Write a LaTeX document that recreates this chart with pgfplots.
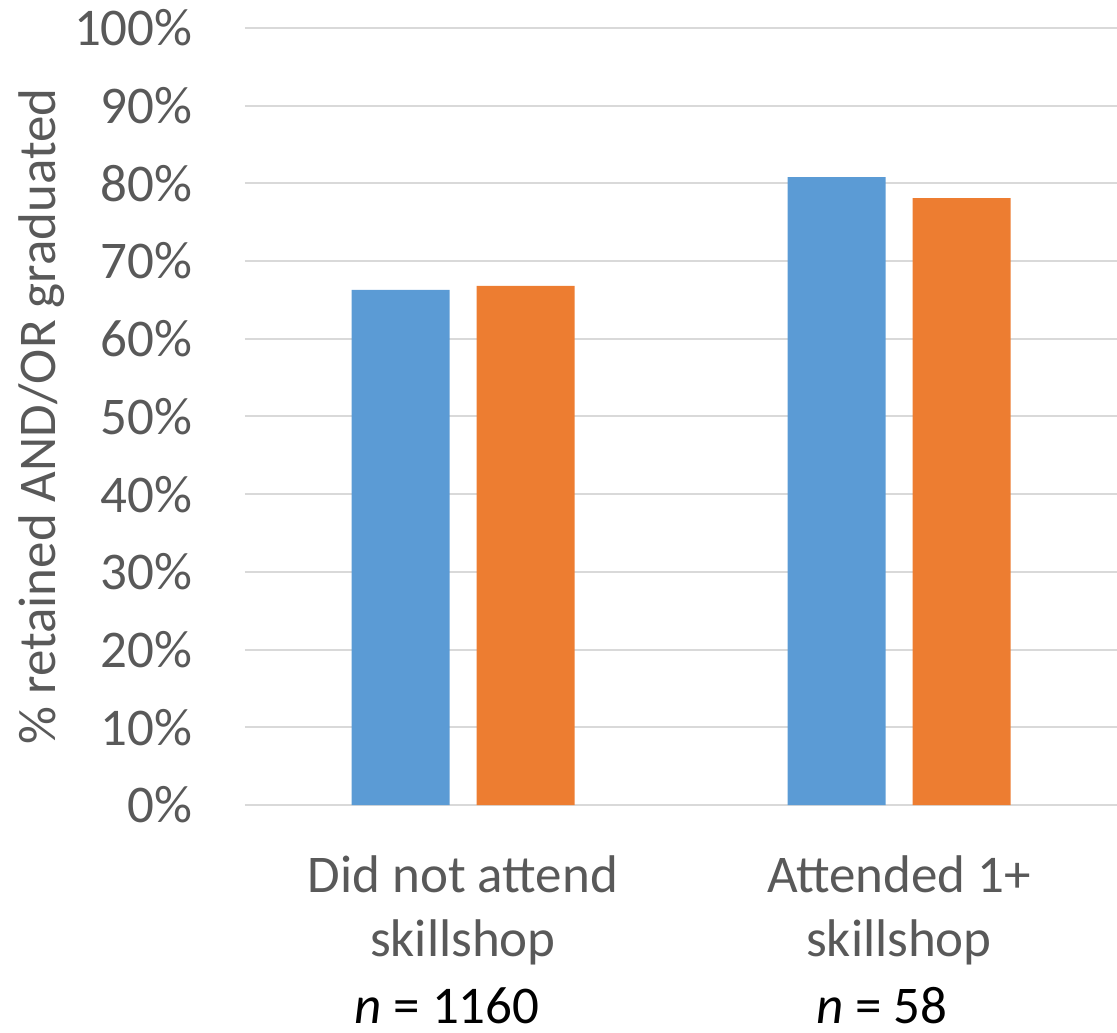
\documentclass[border=0pt]{standalone}
\usepackage{pgfplots}
\pgfplotsset{compat=1.18}
\usepackage{fontspec}
\setmainfont{Carlito}
\definecolor{txt}{HTML}{595959}
\definecolor{grid}{HTML}{D9D9D9}
\definecolor{sblue}{HTML}{5B9BD5}
\definecolor{sorange}{HTML}{ED7D31}
\begin{document}
\begin{tikzpicture}
\useasboundingbox (-122.5pt,-113.5pt) rectangle (436pt,402.5pt);
\begin{axis}[
  at={(0,0)}, anchor=south west,
  scale only axis, width=436pt, height=388.5pt,
  xmin=-0.5, xmax=1.5, ymin=0, ymax=100,
  ybar=13.5pt, bar width=49pt,
  axis line style={draw=none},
  major tick length=0pt,
  xtick={0,1},
  xticklabels={Did not attend\\skillshop, Attended 1+\\skillshop},
  xticklabel style={align=center, anchor=north, inner sep=0pt, yshift=-25pt,
    font=\fontsize{26.5}{32}\selectfont, text=txt},
  ytick={0,10,...,100},
  yticklabel={\pgfmathprintnumber{\tick}\%},
  yticklabel style={anchor=east, inner sep=0pt, xshift=-26pt,
    font=\fontsize{26.5}{32}\selectfont, text=txt},
  /pgf/number format/assume math mode=true,
  ymajorgrids, grid style={draw=grid, line width=1pt},
  ylabel={\% retained AND/OR graduated},
  every axis y label/.style={at={([xshift=-101.5pt]rel axis cs:0,0.5)}, rotate=90, anchor=center,
    font=\fontsize{26.5}{32}\selectfont, text=txt},
  clip=false,
]
\addplot[fill=sblue, draw=none] coordinates {(0,66.3) (1,80.8)};
\addplot[fill=sorange, draw=none] coordinates {(0,66.8) (1,78.1)};
\node[anchor=base, inner sep=0pt, text depth=0pt, font=\fontsize{26.5}{32}\selectfont, text=black] at ([xshift=-8pt,yshift=-109pt]axis cs:0,0) {\textit{n} = 1160};
\node[anchor=base, inner sep=0pt, text depth=0pt, font=\fontsize{26.5}{32}\selectfont, text=black] at ([xshift=-8.5pt,yshift=-109pt]axis cs:1,0) {\textit{n} = 58};
\end{axis}
\end{tikzpicture}
\end{document}
